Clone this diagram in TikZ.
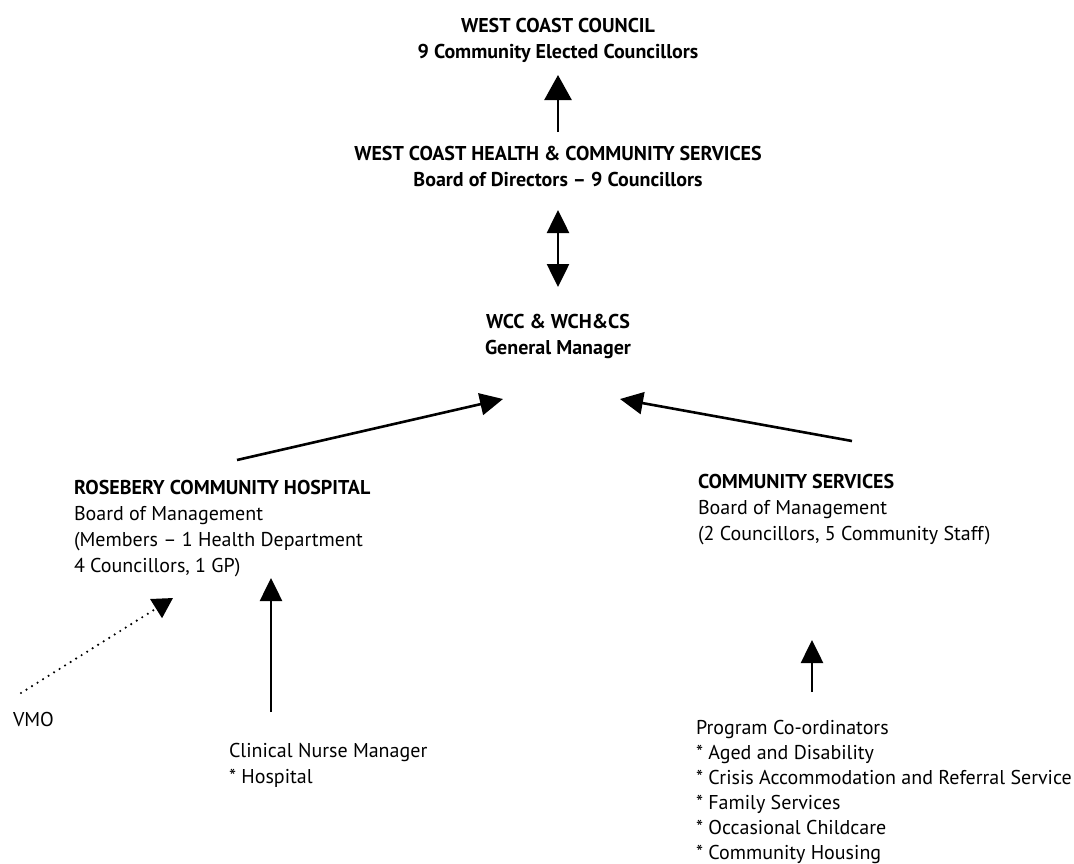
\documentclass[tikz,border=0pt]{standalone}
\usepackage{fontspec}
\setmainfont{PT Sans}
\usetikzlibrary{arrows.meta,calc}
\begin{document}
\begin{tikzpicture}[x=1pt,y=1pt,
  every node/.style={inner sep=0pt, outer sep=0pt, font=\fontsize{20}{26}\selectfont},
  ttl/.style={font=\fontsize{20}{26}\selectfont\bfseries, align=center, anchor=north},
  blk/.style={align=left, anchor=north west},
  tight/.style={font=\fontsize{20}{25}\selectfont},
  conn/.style={line width=2.6pt},
  arr/.style={conn, -{Triangle[length=23pt,width=22pt]}},
  bigarr/.style={conn, -{Triangle[length=25pt,width=27pt]}},
  dblarr/.style={conn, {Triangle[length=23pt,width=22pt]}-{Triangle[length=23pt,width=22pt]}},
  dotarr/.style={line width=2.4pt, line cap=round, dash pattern=on 0pt off 6.5pt, -{Triangle[length=20pt,width=22pt]}}
]
\useasboundingbox (0,0) rectangle (1074,-863);

\node[ttl] (council) at (558,-18) {WEST COAST COUNCIL\\9 Community Elected Councillors};
\node[ttl] (whcs) at (558,-146) {WEST COAST HEALTH \& COMMUNITY SERVICES\\Board of Directors -- 9 Councillors};
\node[ttl] (gm) at (558,-314) {WCC \& WCH\&CS\\General Manager};

\node[blk] (rch) at (74,-480) {\textbf{ROSEBERY COMMUNITY HOSPITAL}\\Board of Management\\(Members -- 1 Health Department\\4 Councillors, 1 GP)};
\node[blk] (cs) at (698,-474) {\textbf{COMMUNITY SERVICES}\\Board of Management\\(2 Councillors, 5 Community Staff)};

\node[blk] (vmo) at (13,-712) {VMO};
\node[blk] (cnm) at (229,-743) {Clinical Nurse Manager\\* Hospital};
\node[blk, tight] (pc) at (696,-720) {Program Co-ordinators\\* Aged and Disability\\* Crisis Accommodation and Referral Service\\* Family Services\\* Occasional Childcare\\* Community Housing};

\draw[bigarr] ([yshift=14]whcs.north) -- ([yshift=-57]council.north);
\draw[dblarr] ([yshift=-64]whcs.north) -- ([yshift=27]gm.north);
\draw[arr] ($(rch.north west)+(163,20)$) -- ($(gm.north)+(-55,-85)$);
\draw[arr] ($(cs.north west)+(154,33)$) -- ($(gm.north)+(62,-85)$);
\draw[dotarr] ($(vmo.north west)+(8,19)$) -- ($(rch.north west)+(99,-118)$);
\draw[arr] ($(cnm.north west)+(42,31)$) -- ($(rch.north west)+(197,-98)$);
\draw[arr] ($(pc.north west)+(116,28)$) -- ($(cs.north west)+(114,-166)$);
\end{tikzpicture}
\end{document}
